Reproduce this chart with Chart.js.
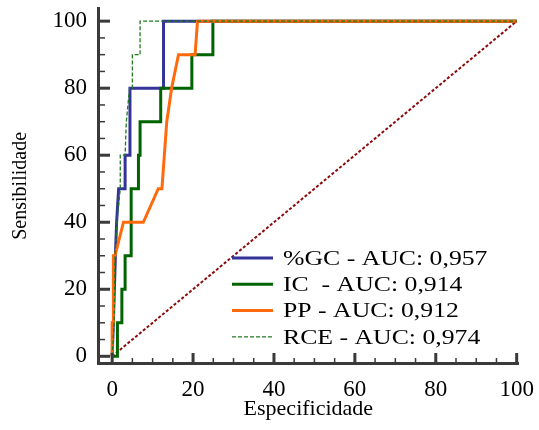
<!DOCTYPE html>
<html>
<head>
<meta charset="utf-8">
<title>Curvas ROC</title>
<style>
  body { margin: 0; background: #fff; }
</style>
</head>
<body>
<canvas id="rocChart" width="539" height="430"></canvas>
<script src="https://cdn.jsdelivr.net/npm/chart.js@4.4.0/dist/chart.umd.min.js"></script>
<script>
    // ROC curves (x = especificidade axis, y = sensibilidade)
    var gcX  = [0, 0.3, 0.8, 1.1, 1.6, 3.2, 3.2, 4.4, 4.4, 12.7, 12.7, 100];
    var gcY  = [0, 10, 30, 40, 50, 50, 60, 60, 80, 80, 100, 100];

    var icX  = [0, 1.3, 1.3, 2.4, 2.4, 3.2, 3.2, 4.7, 4.7, 6.5, 6.5, 6.9, 6.9, 12, 12, 19.7, 19.7, 24.9, 24.9, 100];
    var icY  = [0, 0, 10, 10, 20, 20, 30, 30, 50, 50, 60, 60, 70, 70, 80, 80, 90, 90, 100, 100];

    var ppX  = [0, 0, 0.3, 0.3, 0.7, 2.8, 7.7, 11.4, 12.3, 13.5, 14.7, 16.4, 20.5, 21.1, 100];
    var ppY  = [0, 10, 10, 30, 30, 40, 40, 50, 50, 70, 80, 90, 90, 100, 100];

    var rceX = [0, 0.5, 0.7, 1.2, 2.0, 2.0, 3.2, 3.5, 4.3, 5.0, 5.0, 6.9, 6.9, 100];
    var rceY = [0, 10, 30, 40, 50, 60, 60, 70, 80, 80, 90, 90, 100, 100];

    var diagX = [0, 100];
    var diagY = [0, 100];

    var labels = ['%GC - AUC: 0,957', 'IC  - AUC: 0,914', 'PP - AUC: 0,912', 'RCE - AUC: 0,974'];
    var tickValues = [0, 20, 40, 60, 80, 100];

    function pts(xs, ys) {
        var out = [];
        for (var i = 0; i < xs.length; i++) {
            out.push({x: xs[i], y: ys[i]});
        }
        return out;
    }

    var serif = '"Liberation Serif", "Times New Roman", serif';

    // little ticks that point inward, every 5 units, longer on the labelled ones
    var innerTicks = {
        id: 'innerTicks',
        afterDatasetsDraw: function(chart) {
            var ctx = chart.ctx;
            var xs = chart.scales.x, ys = chart.scales.y;
            var area = chart.chartArea;
            ctx.save();
            ctx.strokeStyle = '#3a3a3a';
            for (var v = 0; v <= 100; v += 5) {
                var major = v % 20 === 0;
                ctx.lineWidth = major ? 3 : 1.5;
                var len = major ? 12 : 7;
                var px = xs.getPixelForValue(v);
                ctx.beginPath();
                ctx.moveTo(px, area.bottom);
                ctx.lineTo(px, area.bottom - len + 2);
                ctx.stroke();
                var py = ys.getPixelForValue(v);
                ctx.beginPath();
                ctx.moveTo(area.left, py);
                ctx.lineTo(area.left + len, py);
                ctx.stroke();
            }
            ctx.restore();
        }
    };

    // legend sits inside the plot, lower right
    var insideLegend = {
        id: 'insideLegend',
        afterDraw: function(chart) {
            var ctx = chart.ctx;
            var x0 = 232, y0 = 258, step = 26.3, sx = 1.17;
            ctx.save();
            ctx.font = '22px ' + serif;
            ctx.textBaseline = 'middle';
            ctx.fillStyle = '#000';
            chart.data.datasets.forEach(function(ds, i) {
                if (i > 3) return;
                var y = y0 + i * step;
                ctx.strokeStyle = ds.borderColor;
                ctx.lineWidth = ds.borderWidth;
                ctx.setLineDash(ds.borderDash || []);
                ctx.beginPath();
                ctx.moveTo(x0, y);
                ctx.lineTo(x0 + 41, y);
                ctx.stroke();
                ctx.setLineDash([]);
                ctx.save();
                ctx.translate(x0 + 51, y + 1);
                ctx.scale(sx, 1);
                ctx.fillText(ds.label, 0, 0);
                ctx.restore();
            });
            ctx.restore();
        }
    };

    var ctx = document.getElementById('rocChart').getContext('2d');
    var chart = new Chart(ctx, {
        type: 'scatter',
        data: {
            datasets: [
                { label: labels[0], data: pts(gcX, gcY), borderColor: '#333399', borderWidth: 3, order: 4 },
                { label: labels[1], data: pts(icX, icY), borderColor: '#006400', borderWidth: 3, order: 3 },
                { label: labels[2], data: pts(ppX, ppY), borderColor: '#ff6a0d', borderWidth: 3, order: 2 },
                { label: labels[3], data: pts(rceX, rceY), borderColor: '#1f7a1f', borderWidth: 1.3, borderDash: [4, 2], order: 1 },
                { label: 'diag', data: pts(diagX, diagY), borderColor: '#8b0a0a', borderWidth: 2, borderDash: [3, 2], order: 5 }
            ]
        },
        options: {
            responsive: false,
            animation: false,
            showLine: true,
            elements: {
                point: { radius: 0, hoverRadius: 0 },
                line: { tension: 0, fill: false, borderCapStyle: 'butt' }
            },
            layout: { padding: { left: 0, right: 14, top: 7, bottom: 0 } },
            plugins: {
                legend: { display: false },
                tooltip: { enabled: false }
            },
            scales: {
                x: {
                    type: 'linear',
                    min: -3.5,
                    max: 100.5,
                    afterBuildTicks: function(s) { s.ticks = tickValues.map(function(v) { return {value: v}; }); },
                    afterFit: function(s) { s.height = 67; },
                    grid: { display: false },
                    border: { display: true, color: '#3a3a3a', width: 3 },
                    ticks: { color: '#000', padding: 5, maxRotation: 0, font: { family: serif, size: 23 } },
                    title: { display: true, text: 'Especificidade', color: '#000', padding: { top: 0, bottom: 8 }, font: { family: serif, size: 22 } }
                },
                y: {
                    type: 'linear',
                    min: -2,
                    max: 103.7,
                    afterBuildTicks: function(s) { s.ticks = tickValues.map(function(v) { return {value: v}; }); },
                    afterFit: function(s) { s.width = 98; },
                    grid: { display: false },
                    border: { display: true, color: '#3a3a3a', width: 3 },
                    ticks: { color: '#000', padding: 3, font: { family: serif, size: 23, lineHeight: 0.5 } },
                    title: { display: true, text: 'Sensibilidade', color: '#000', padding: { top: 9, bottom: 0 }, font: { family: serif, size: 20 } }
                }
            }
        },
        plugins: [innerTicks, insideLegend]
    });
</script>
</body>
</html>
